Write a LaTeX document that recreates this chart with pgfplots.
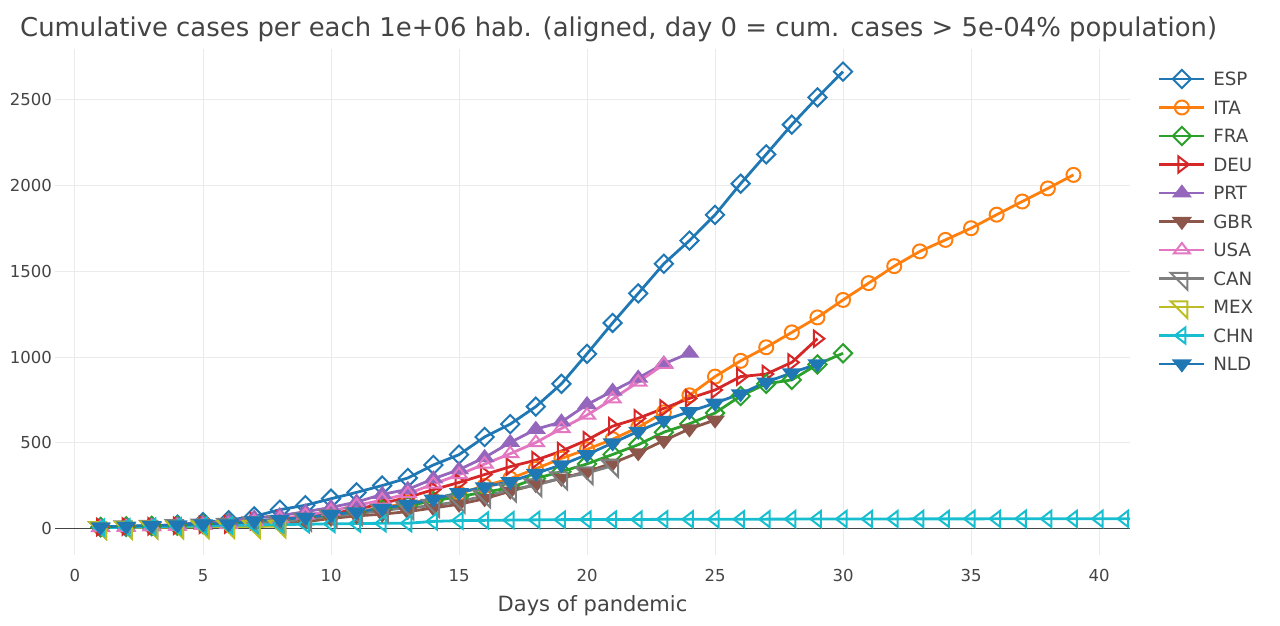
\documentclass[border=0pt]{standalone}
\usepackage{fontspec}
\setmainfont{DejaVu Sans}
\usepackage{pgfplots}
\pgfplotsset{compat=1.18}
\definecolor{cESP}{HTML}{1F77B4}
\definecolor{cITA}{HTML}{FF7F0E}
\definecolor{cFRA}{HTML}{2CA02C}
\definecolor{cDEU}{HTML}{D62728}
\definecolor{cPRT}{HTML}{9467BD}
\definecolor{cGBR}{HTML}{8C564B}
\definecolor{cUSA}{HTML}{E377C2}
\definecolor{cCAN}{HTML}{7F7F7F}
\definecolor{cMEX}{HTML}{BCBD22}
\definecolor{cCHN}{HTML}{17BECF}
\definecolor{cNLD}{HTML}{1F77B4}
\definecolor{tgray}{HTML}{444444}
\definecolor{ggray}{HTML}{EBEBEB}
% plotly-like marker shapes (r = mark size)
\pgfdeclareplotmark{pdia}{%
 \pgfpathmoveto{\pgfqpoint{0pt}{1.3\pgfplotmarksize}}%
 \pgfpathlineto{\pgfqpoint{1.3\pgfplotmarksize}{0pt}}%
 \pgfpathlineto{\pgfqpoint{0pt}{-1.3\pgfplotmarksize}}%
 \pgfpathlineto{\pgfqpoint{-1.3\pgfplotmarksize}{0pt}}%
 \pgfpathclose\pgfusepathqstroke}
\pgfdeclareplotmark{pcirc}{%
 \pgfpathcircle{\pgfpointorigin}{\pgfplotmarksize}\pgfusepathqstroke}
\pgfdeclareplotmark{ptup}{%
 \pgfpathmoveto{\pgfqpoint{0pt}{1\pgfplotmarksize}}%
 \pgfpathlineto{\pgfqpoint{1.1547\pgfplotmarksize}{-0.5\pgfplotmarksize}}%
 \pgfpathlineto{\pgfqpoint{-1.1547\pgfplotmarksize}{-0.5\pgfplotmarksize}}%
 \pgfpathclose\pgfusepathqstroke}
\pgfdeclareplotmark{ptup*}{%
 \pgfpathmoveto{\pgfqpoint{0pt}{1\pgfplotmarksize}}%
 \pgfpathlineto{\pgfqpoint{1.1547\pgfplotmarksize}{-0.5\pgfplotmarksize}}%
 \pgfpathlineto{\pgfqpoint{-1.1547\pgfplotmarksize}{-0.5\pgfplotmarksize}}%
 \pgfpathclose\pgfusepathqfillstroke}
\pgfdeclareplotmark{ptdown*}{%
 \pgfpathmoveto{\pgfqpoint{0pt}{-1\pgfplotmarksize}}%
 \pgfpathlineto{\pgfqpoint{1.1547\pgfplotmarksize}{0.5\pgfplotmarksize}}%
 \pgfpathlineto{\pgfqpoint{-1.1547\pgfplotmarksize}{0.5\pgfplotmarksize}}%
 \pgfpathclose\pgfusepathqfillstroke}
\pgfdeclareplotmark{ptright}{%
 \pgfpathmoveto{\pgfqpoint{1\pgfplotmarksize}{0pt}}%
 \pgfpathlineto{\pgfqpoint{-0.5\pgfplotmarksize}{1.1547\pgfplotmarksize}}%
 \pgfpathlineto{\pgfqpoint{-0.5\pgfplotmarksize}{-1.1547\pgfplotmarksize}}%
 \pgfpathclose\pgfusepathqstroke}
\pgfdeclareplotmark{ptleft}{%
 \pgfpathmoveto{\pgfqpoint{-1\pgfplotmarksize}{0pt}}%
 \pgfpathlineto{\pgfqpoint{0.5\pgfplotmarksize}{1.1547\pgfplotmarksize}}%
 \pgfpathlineto{\pgfqpoint{0.5\pgfplotmarksize}{-1.1547\pgfplotmarksize}}%
 \pgfpathclose\pgfusepathqstroke}
\pgfdeclareplotmark{ptne}{%
 \pgfpathmoveto{\pgfqpoint{-1.6\pgfplotmarksize}{0.8\pgfplotmarksize}}%
 \pgfpathlineto{\pgfqpoint{0.8\pgfplotmarksize}{0.8\pgfplotmarksize}}%
 \pgfpathlineto{\pgfqpoint{0.8\pgfplotmarksize}{-1.6\pgfplotmarksize}}%
 \pgfpathclose\pgfusepathqstroke}
\pgfplotsset{ser/.style 2 args={color=#1, line width=2.8bp, mark=#2, mark size=7bp,
  mark options={solid, line width=2bp}}}
\begin{document}
\begin{tikzpicture}
\useasboundingbox (0,0) rectangle (1280bp,626bp);
\begin{axis}[
  at={(55bp,71bp)}, anchor=south west,
  scale only axis, width=1075bp, height=506bp,
  xmin=-0.781, xmax=41.21, ymin=-153, ymax=2797,
  xtick={0,5,...,40}, ytick={0,500,...,2500},
  grid=major, grid style={color=ggray, line width=1bp},
  axis line style={draw=none}, tick style={draw=none},
  extra y ticks={0}, extra y tick labels={},
  extra y tick style={grid style={color=tgray, line width=1.4bp}},
  /pgf/number format/.cd, 1000 sep={}, assume math mode=true, /pgfplots/.cd,
  ticklabel style={font=\fontsize{16.5bp}{20bp}\selectfont, text=tgray},
  yticklabel style={anchor=east, inner sep=0pt, xshift=-3bp},
  xticklabel style={anchor=north, inner sep=0pt, yshift=-14bp},
  xlabel={Days of pandemic},
  xlabel style={at={(axis description cs:0.5,-0.1126)}, anchor=base, inner sep=0pt,
    font=\fontsize{21bp}{25bp}\selectfont, text=tgray},
  legend image code/.code={\draw[mark repeat=2,mark phase=2] plot coordinates {(0bp,0bp) (22.5bp,0bp) (45bp,0bp)};},
  legend cell align=left,
  legend style={draw=none, fill=none, at={(1.0260,0.96844)}, anchor=north west,
    inner sep=0pt, outer sep=0pt, row sep=0.44bp,
    font=\fontsize{18.3bp}{22bp}\selectfont, text=tgray,
    nodes={inner sep=0pt, text height=20.7bp, text depth=7.36bp},
    /tikz/every odd column/.append style={column sep=7.5bp}},
]
\addplot[ser={cESP}{pdia}] table {
1 9
2 11
3 15
4 24
5 38
6 50
7 72
8 111
9 137
10 175
11 212
12 252
13 296
14 372
15 432
16 535
17 610
18 712
19 845
20 1020
21 1200
22 1372
23 1545
24 1680
25 1830
26 2012
27 2183
28 2356
29 2515
30 2665
};
\addlegendentry{ESP}
\addplot[ser={cITA}{pcirc}] table {
1 7.5
2 10.8
3 14.7
4 18.7
5 28.0
6 33.7
7 41.4
8 51.1
9 63.9
10 76.8
11 97.4
12 122
13 152
14 168
15 206
16 250
17 292
18 350
19 410
20 463
21 522
22 591
23 679
24 778
25 887
26 979
27 1058
28 1145
29 1232
30 1334
31 1432
32 1531
33 1617
34 1684
35 1752
36 1831
37 1908
38 1984
39 2063
};
\addlegendentry{ITA}
\addplot[ser={cFRA}{pdia}] table {
1 9.7
2 14
3 17
4 18
5 27
6 34
7 43
8 54
9 67
10 80
11 98
12 114
13 135
14 162
15 188
16 213
17 239
18 293
19 333
20 378
21 433
22 490
23 563
24 612
25 675
26 774
27 845
28 868
29 958
30 1023
};
\addlegendentry{FRA}
\addplot[ser={cDEU}{ptright}] table {
1 9.6
2 12.5
3 14.2
4 17.5
5 23
6 25
7 44
8 55
9 70
10 88
11 112
12 148
13 183
14 228
15 270
16 316
17 362
18 400
19 453
20 517
21 598
22 644
23 702
24 760
25 809
26 887
27 902
28 970
29 1108
};
\addlegendentry{DEU}
\addplot[ser={cPRT}{ptup*}] table {
1 7.6
2 10.9
3 16.4
4 23.8
5 32.2
6 43.6
7 62.5
8 76.4
9 99.2
10 124.5
11 155.6
12 200.4
13 229.8
14 291.3
15 344.7
16 415.2
17 502.9
18 580
19 623
20 724
21 802.6
22 878.8
23 961.7
24 1023.7
};
\addlegendentry{PRT}
\addplot[ser={cGBR}{ptdown*}] table {
1 6.9
2 8.9
3 12
4 17
5 17
6 23
7 29
8 40
9 41
10 60
11 75
12 85
13 100
14 121
15 143
16 175
17 219
18 257
19 294
20 333
21 383
22 443
23 514
24 582
25 634
};
\addlegendentry{GBR}
\addplot[ser={cUSA}{ptup}] table {
1 6.8
2 8.5
3 10.9
4 14.4
5 19.9
6 24.2
7 42.5
8 59.3
9 79.2
10 103.3
11 136.2
12 166.9
13 204.3
14 260.4
15 315.7
16 377.2
17 437.6
18 502.6
19 584.4
20 662.2
21 756.6
22 855.2
23 958.5
};
\addlegendentry{USA}
\addplot[ser={cCAN}{ptne}] table {
1 6.7
2 11
3 12.7
4 17.5
5 21
6 25
7 34
8 39
9 56
10 74
11 86
12 107
13 122
14 135
15 160
16 190
17 226
18 255
19 296
20 325
21 368
};
\addlegendentry{CAN}
\addplot[ser={cMEX}{ptne}] table {
1 6.7
2 7.9
3 8.7
4 9.6
5 10.9
6 12.0
7 13.4
8 15.0
};
\addlegendentry{MEX}
\addplot[ser={cCHN}{ptleft}] table {
1 7.0
2 8.5
3 11.9
4 14.1
5 17.0
6 19.7
7 21.9
8 24.4
9 26.4
10 28.5
11 30.3
12 31.8
13 32.1
14 42.9
15 47.5
16 49.0
17 50.5
18 51.9
19 53.1
20 53.4
21 53.8
22 54.1
23 55.1
24 55.1
25 55.3
26 55.7
27 56.0
28 56.3
29 56.5
30 56.8
31 57.2
32 57.4
33 57.5
34 57.6
35 57.7
36 57.8
37 57.8
38 57.9
39 57.9
40 57.9
41 58.0
42 58.0
};
\addlegendentry{CHN}
\addplot[ser={cNLD}{ptdown*}] table {
1 10.9
2 15.3
3 18.6
4 22
5 29
6 29
7 46
8 55
9 66
10 82
11 99
12 119
13 143
14 173
15 210
16 244
17 275
18 323
19 372
20 432
21 500
22 568
23 632
24 683
25 732
26 787
27 855
28 909
29 961
};
\addlegendentry{NLD}
\end{axis}
\node[anchor=base west, inner sep=0pt, font=\fontsize{25.9bp}{30bp}\selectfont, text=tgray]
  at (20bp,589.5bp) {Cumulative cases per each 1e+06 hab. (aligned, day 0 = cum. cases > 5e-04\% population)};
\end{tikzpicture}
\end{document}
